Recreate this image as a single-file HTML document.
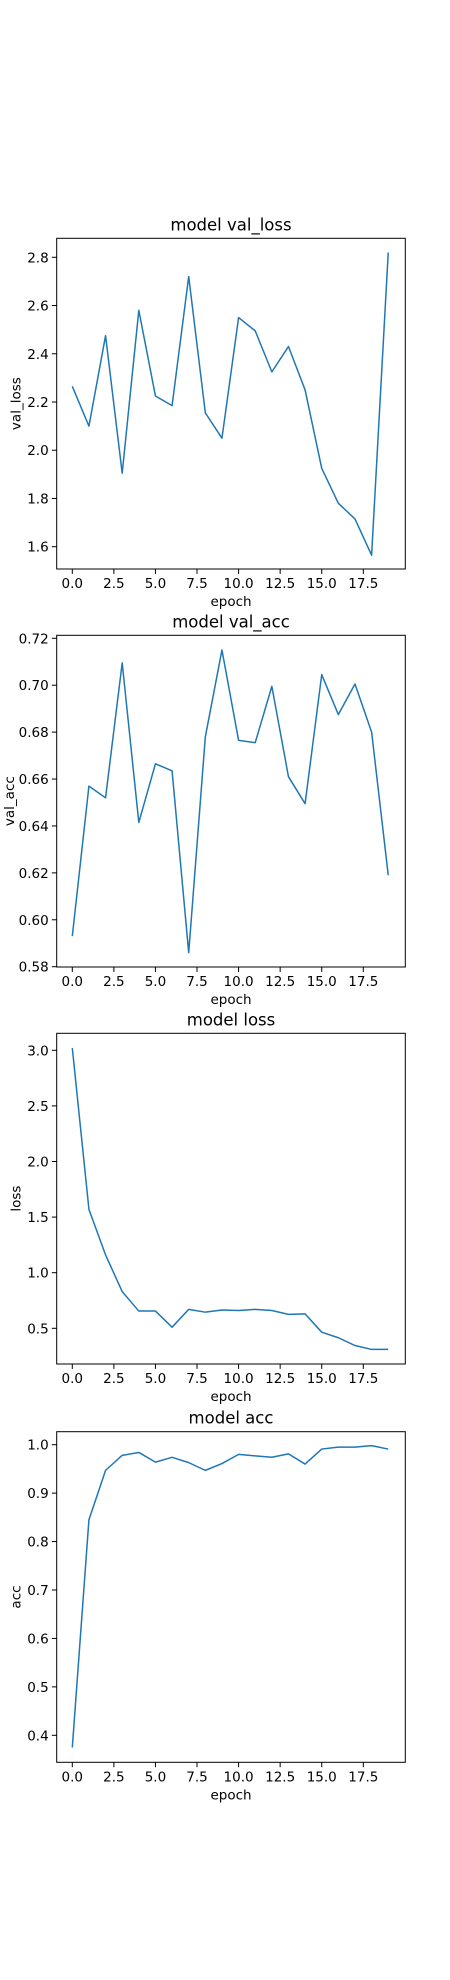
<!DOCTYPE html>
<html><head><meta charset="utf-8"><style>
body{margin:0;background:#fff}
svg{display:block;font-family:"DejaVu Sans","Liberation Sans",sans-serif}
</style></head><body>
<svg id="fig" width="450" height="1980" viewBox="0 0 450 1980"></svg>
<script>
const epochs=[0,1,2,3,4,5,6,7,8,9,10,11,12,13,14,15,16,17,18,19];
const xTicks=[0,2.5,5,7.5,10,12.5,15,17.5];
const xTickLabels=["0.0","2.5","5.0","7.5","10.0","12.5","15.0","17.5"];
const valLoss=[2.265,2.10,2.475,1.905,2.58,2.225,2.185,2.72,2.155,2.05,2.55,2.495,2.325,2.43,2.25,1.925,1.78,1.715,1.565,2.82];
const valLossTicks=[1.6,1.8,2.0,2.2,2.4,2.6,2.8];
const valLossTickLabels=["1.6","1.8","2.0","2.2","2.4","2.6","2.8"];
const valAcc=[0.593,0.657,0.652,0.7095,0.6415,0.6665,0.6635,0.586,0.678,0.715,0.6765,0.6755,0.6995,0.661,0.6495,0.7045,0.6875,0.7005,0.680,0.619];
const valAccTicks=[0.58,0.60,0.62,0.64,0.66,0.68,0.70,0.72];
const valAccTickLabels=["0.58","0.60","0.62","0.64","0.66","0.68","0.70","0.72"];
const loss=[3.02,1.57,1.16,0.83,0.655,0.655,0.51,0.67,0.645,0.665,0.66,0.67,0.66,0.625,0.63,0.465,0.415,0.345,0.31,0.31];
const lossTicks=[0.5,1.0,1.5,2.0,2.5,3.0];
const lossTickLabels=["0.5","1.0","1.5","2.0","2.5","3.0"];
const acc=[0.375,0.845,0.947,0.978,0.984,0.964,0.974,0.963,0.947,0.961,0.98,0.977,0.974,0.981,0.96,0.991,0.995,0.995,0.998,0.991];
const accTicks=[0.4,0.5,0.6,0.7,0.8,0.9,1.0];
const accTickLabels=["0.4","0.5","0.6","0.7","0.8","0.9","1.0"];

const NS="http://www.w3.org/2000/svg";
const fig=document.getElementById('fig');
function mk(tag,attrs,parent){const e=document.createElementNS(NS,tag);for(const k in attrs)e.setAttribute(k,attrs[k]);parent.appendChild(e);return e;}

const L=56.7,R=405.3;
function xs(v){return 72.3+(v-0)*(363.3-72.3)/17.5;}

function chart(id,title,ylabel,vals,yt,ytl,top,bottom,v0,p0,v1,p1,ylx){
  const ys=v=>p0+(v-v0)*(p1-p0)/(v1-v0);
  const g=mk('g',{},fig);
  
  
  const t=mk('text',{x:(L+R)/2,y:top-8,'text-anchor':'middle','font-size':'16.5',fill:'#000'},g);
  t.textContent=title;
  
  
  const fr=mk('rect',{x:L,y:top,width:R-L,height:bottom-top,fill:'none',stroke:'#000','stroke-width':1},g);
  
  
  xTicks.forEach((v,i)=>{
    const x=xs(v);
    const tk=mk('line',{x1:x,x2:x,y1:bottom,y2:bottom+4.9,stroke:'#000','stroke-width':1},g);
    
    
    const lb=mk('text',{x:x,y:bottom+19,'text-anchor':'middle','font-size':'13.5',fill:'#000'},g);
    lb.textContent=xTickLabels[i];
    
    
  });
  yt.forEach((v,i)=>{
    const y=ys(v);
    const tk=mk('line',{x1:L-4.9,x2:L,y1:y,y2:y,stroke:'#000','stroke-width':1},g);
    
    
    const lb=mk('text',{x:L-8,y:y+5,'text-anchor':'end','font-size':'13.5',fill:'#000'},g);
    lb.textContent=ytl[i];
    
    
  });
  const xl=mk('text',{x:(L+R)/2,y:bottom+37,'text-anchor':'middle','font-size':'13.5',fill:'#000'},g);
  xl.textContent='epoch';
  
  
  const cy=(top+bottom)/2;
  const yl=mk('text',{x:0,y:0,'text-anchor':'middle','font-size':'13.5',fill:'#000',transform:`translate(${ylx},${cy}) rotate(-90)`},g);
  yl.textContent=ylabel;
  
  
  const pts=vals.map((v,i)=>xs(epochs[i]).toFixed(2)+','+ys(v).toFixed(2)).join(' ');
  const pl=mk('polyline',{points:pts,fill:'none',stroke:'#1f77b4','stroke-width':1.5,'stroke-linejoin':'round'},g);
  
  
}
chart('val-loss','model val_loss','val_loss',valLoss,valLossTicks,valLossTickLabels,238.3,569,2.8,257.3,1.6,546.7,20.5);
chart('val-acc','model val_acc','val_acc',valAcc,valAccTicks,valAccTickLabels,635.3,967,0.72,638.3,0.58,966.7,14);
chart('loss','model loss','loss',loss,lossTicks,lossTickLabels,1033.3,1364,3.0,1050.3,0.5,1328.3,20.5);
chart('acc','model acc','acc',acc,accTicks,accTickLabels,1431.7,1762.3,1.0,1444.7,0.4,1735.3,20.5);
</script>
</body></html>
